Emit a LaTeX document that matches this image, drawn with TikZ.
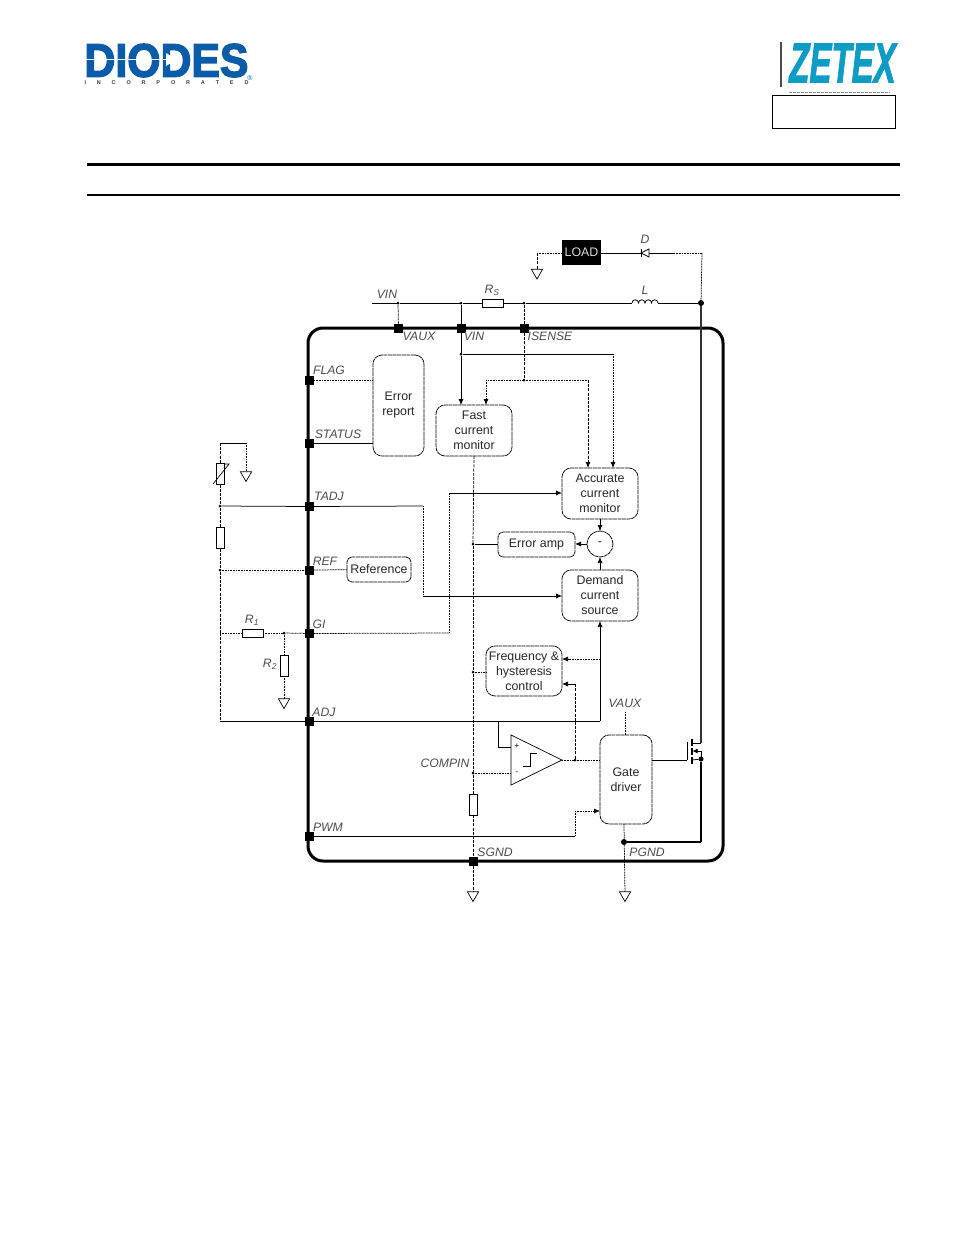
\documentclass[tikz,border=0pt]{standalone}
\usepackage{fontspec}
\setmainfont{Liberation Sans}
\newfontfamily\diodesfont{Liberation Sans}[UprightFont=* Bold,FakeBold=3]
\newfontfamily\zetexfont{Liberation Sans}[UprightFont=* Bold Italic,FakeBold=2.2]
\newfontfamily\incfont{Liberation Sans}[UprightFont=* Bold,WordSpace=7.1]
\usetikzlibrary{shapes.geometric,arrows.meta}
\definecolor{diodesblue}{HTML}{0B5CA8}
\definecolor{zetexblue}{HTML}{0C9CC6}
\tikzset{
  wire/.style={line width=0.75pt},
  dotwire/.style={line width=0.75pt,dash pattern=on 1pt off 0.6pt},
  dashwire/.style={line width=0.75pt,dash pattern=on 3pt off 1.2pt},
  arr/.style={-{Latex[length=6pt,width=5pt]}},
  block/.style={draw,line width=0.75pt,dash pattern=on 4pt off 0.6pt,rounded corners=9pt,inner sep=0pt,outer sep=0pt,align=center,font=\fontsize{12.4}{15}\selectfont,text=black!85},
  pin/.style={font=\fontsize{12.2}{14}\selectfont\itshape,text=black!70,inner sep=0pt},
  pad/.style={fill=black,minimum size=9pt,inner sep=0pt,outer sep=0pt},
  jdot/.style={circle,fill=black,minimum size=3pt,inner sep=0pt,outer sep=0pt},
  bigdot/.style={circle,fill=black,minimum size=6pt,inner sep=0pt,outer sep=0pt},
  resh/.style={draw,line width=0.7pt,minimum width=21pt,minimum height=8pt,inner sep=0pt,outer sep=0pt},
  resv/.style={draw,line width=0.7pt,minimum width=8pt,minimum height=21pt,inner sep=0pt,outer sep=0pt},
  gndsym/.style={draw,line width=0.7pt,regular polygon,regular polygon sides=3,shape border rotate=180,minimum size=13pt,inner sep=0pt,outer sep=0pt},
}
\begin{document}
\begin{tikzpicture}[x=1pt,y=-1pt]
\useasboundingbox (0,0) rectangle (954,1235);
%%% header %%%%
\node[inner sep=0pt,text=diodesblue,font=\fontsize{47}{47}\diodesfont,xscale=0.91] (diodes) at (166.5,60.5) {DIODES};
\node[inner sep=0pt,font=\fontsize{5.5}{6}\incfont,text=black!75] (incorp) at (166.5,83) {I N C O R P O R A T E D};
\node[inner sep=0pt,text=diodesblue,font=\fontsize{7}{7}\selectfont] (regmark) at (250,78) {®};
\node[inner sep=0pt,text=zetexblue,font=\fontsize{56}{56}\zetexfont,xscale=0.59] (zetex) at (842.5,63) {ZETEX};
\node[draw,line width=1.2pt,minimum width=123pt,minimum height=33pt,inner sep=0pt] (tagbox) at (834,112) {};
\coordinate (stra) at (85,59.5);
\coordinate (strb) at (168,59.5);
\coordinate (bara) at (781,42);
\coordinate (barb) at (781,87);
\coordinate (taga) at (789,92);
\coordinate (tagb) at (890,92);
\coordinate (rula) at (87,164.5);
\coordinate (rulb) at (900,164.5);
\coordinate (rulc) at (87,195);
\coordinate (ruld) at (900,195);
\draw[line width=1.5pt,white] (stra) to (strb);
\fill[white] (166,53) to (177,59.5) to (166,66) to cycle;
\draw[line width=1.2pt,black!70] (bara) to (barb);
\draw[line width=0.8pt,black!45,dash pattern=on 3pt off 1pt] (taga) to (tagb);
\draw[line width=3pt] (rula) to (rulb);
\draw[line width=2pt] (rulc) to (ruld);

%%% chip %%%%
\node[draw,line width=3pt,rounded corners=15pt,minimum width=415pt,minimum height=533pt,inner sep=0pt,outer sep=0pt] (chip) at (515.5,594.5) {};

%% pads
\node[pad] (pvaux) at (398.5,328.5) {};
\node[pad] (pvin) at (461,328.5) {};
\node[pad] (pisense) at (524,328.5) {};
\node[pad] (pflag) at (309.5,380) {};
\node[pad] (pstatus) at (309.5,443) {};
\node[pad] (ptadj) at (309.5,506.5) {};
\node[pad] (pref) at (309.5,570) {};
\node[pad] (pgi) at (309.5,633.5) {};
\node[pad] (padj) at (309.5,721) {};
\node[pad] (ppwm) at (309.5,836) {};
\node[pad] (psgnd) at (473,861) {};

%% blocks
\node[block,minimum width=51pt,minimum height=101pt] (err) at (398.5,405.5) {Error\\report};
\node[block,minimum width=76pt,minimum height=51pt] (fast) at (474,430.5) {Fast\\current\\monitor};
\node[block,minimum width=76pt,minimum height=51pt] (acc) at (600,493.5) {Accurate\\current\\monitor};
\node[block,minimum width=77pt,minimum height=25pt,rounded corners=5pt] (eamp) at (536.5,544.5) {Error amp};
\node[block,circle,minimum size=26pt] (sumc) at (600,544) {-};
\node[block,minimum width=76pt,minimum height=51pt] (dem) at (600,595.5) {Demand\\current\\source};
\node[block,minimum width=64pt,minimum height=25pt,rounded corners=5pt] (refb) at (379,569.5) {Reference};
\node[block,minimum width=76pt,minimum height=50pt] (freq) at (524,671) {Frequency \&\\hysteresis\\control};
\node[block,minimum width=52pt,minimum height=89pt] (gate) at (626,779.5) {Gate\\driver};
\node[fill=black,minimum width=39pt,minimum height=25pt,inner sep=0pt,outer sep=0pt,text=white!85!black,font=\fontsize{12.4}{15}\selectfont] (load) at (581.5,252.5) {LOAD};

%% resistors
\node[resh] (rs) at (492.5,303) {};
\node[resh] (rone) at (252.5,633) {};
\node[resv] (rtwo) at (284,665.5) {};
\node[resv] (rbias) at (220,538) {};
\node[resv] (rtherm) at (220,474) {};
\node[resv] (rcomp) at (473,804.5) {};

%% grounds
\node[gndsym] (gload) at (537,272.5) {};
\node[gndsym] (gtherm) at (246,475) {};
\node[gndsym] (gtwo) at (284,702) {};
\node[gndsym] (gsgnd) at (473,895) {};
\node[gndsym] (gpgnd) at (625,895) {};

%% dots
\node[jdot] (dvaux) at (398,303) {};
\node[jdot] (dvin) at (461,303) {};
\node[jdot] (dsense) at (524,303) {};
\node[bigdot] (dout) at (701,303) {};
\node[jdot] (dvinb) at (461,354) {};
\node[jdot] (dsenseb) at (524,380) {};
\node[jdot] (dtadj) at (220,506) {};
\node[jdot] (dref) at (220,570) {};
\node[jdot] (dgi) at (284,633) {};
\node[jdot] (deamp) at (473,544) {};
\node[jdot] (dfreq) at (473,672) {};
\node[jdot] (dcomp) at (473,773) {};
\node[jdot] (dfb) at (575,760) {};
\node[bigdot,minimum size=5pt] (dsrc) at (701,759) {};
\node[bigdot] (dpgnd) at (624,842) {};

%% corners and free ends
\coordinate (vinl) at (372,303);
\coordinate (lleft) at (632,303);
\coordinate (lright) at (658,303);
\coordinate (loadc) at (537,253);
\coordinate (dioa) at (641,253);
\coordinate (dioe) at (674,253);
\coordinate (dioc) at (702,253);
\coordinate (vinc) at (613,354);
\coordinate (sensel) at (486,380);
\coordinate (senser) at (588,380);
\coordinate (tadja) at (423,506);
\coordinate (tadjb) at (423,596);
\coordinate (gia) at (449,633);
\coordinate (gib) at (449,493);
\coordinate (lefttop) at (220,443);
\coordinate (thermtop) at (246,443);
\coordinate (lgi) at (220,633);
\coordinate (ladj) at (220,721);
\coordinate (adjc) at (600,721);
\coordinate (adjd) at (600,659);
\coordinate (plusa) at (498,721);
\coordinate (plusb) at (498,747);
\coordinate (cmpa) at (511,735);
\coordinate (cmpb) at (511,785);
\coordinate (cmpc) at (562,760);
\coordinate (plusc) at (511,747);
\coordinate (minc) at (511,773);
\coordinate (fba) at (575,684);
\coordinate (pwma) at (575,836);
\coordinate (pwmb) at (575,811);
\coordinate (vauxt) at (625,712);
\coordinate (gdout) at (687,760);
\coordinate (gdtop) at (687,742);
\coordinate (dtop) at (701,743);
\coordinate (dcor) at (701,842);

%% labels
\node[pin] (lvinl) at (387,294) {VIN};
\node[pin] (lrs) at (492,290) {R\textsubscript{S}};
\node[pin] (ll) at (645,290) {L};
\node[pin] (ld) at (645,239) {D};
\node[pin] (lvaux) at (419,336) {VAUX};
\node[pin] (lvin) at (474,336) {VIN};
\node[pin] (lisense) at (550,336) {ISENSE};
\node[pin] (lflag) at (329,370) {FLAG};
\node[pin] (lstatus) at (338,434) {STATUS};
\node[pin] (ltadj) at (329,496) {TADJ};
\node[pin] (lref) at (325,561) {REF};
\node[pin] (lgil) at (319,624) {GI};
\node[pin] (ladjl) at (324,712) {ADJ};
\node[pin] (lpwm) at (328,827) {PWM};
\node[pin] (lcompin) at (445,763) {COMPIN};
\node[pin] (lsgnd) at (495,852) {SGND};
\node[pin] (lpgnd) at (647,852) {PGND};
\node[pin] (lvauxb) at (625,703) {VAUX};
\node[pin] (lrone) at (252,620) {R\textsubscript{1}};
\node[pin] (lrtwo) at (270,664) {R\textsubscript{2}};
\node[inner sep=0pt,font=\fontsize{8}{8}\selectfont] (lplus) at (517,746) {+};
\node[inner sep=0pt,font=\fontsize{8}{8}\selectfont] (lminus) at (517,773) {-};

%%% edges %%%%
%% supply line
\draw[wire] (vinl) to (dvaux);
\draw[wire] (dvaux) to (dvin);
\draw[wire] (dvin) to (rs);
\draw[wire] (rs) to (dsense);
\draw[wire] (dsense) to (lleft);
\draw[wire] (lright) to (dout);
\draw[wire] (lleft) \foreach \i in {1,...,4} {arc[start angle=180,end angle=360,radius=3.25]};
\draw[dotwire] (dvaux) to (pvaux);
\draw[wire] (dvin) to (pvin);
\draw[wire] (pvin) to (dvinb);
\draw[wire,arr] (dvinb) to (fast.north -| dvinb);
\draw[wire] (dvinb) to (vinc);
\draw[dotwire,arr] (vinc) to (acc.north -| vinc);
\draw[dashwire] (dsense) to (pisense);
\draw[dashwire] (pisense) to (dsenseb);
\draw[dotwire] (dsenseb) to (sensel);
\draw[dotwire,arr] (sensel) to (fast.north -| sensel);
\draw[dotwire] (dsenseb) to (senser);
\draw[dashwire,arr] (senser) to (acc.north -| senser);

%% load and diode
\draw[wire] (load.east |- dioa) to (dioe);
\draw[dotwire] (dioe) to (dioc);
\draw[dotwire] (dioc) to (dout);
\draw[dotwire] (load.west |- loadc) to (loadc);
\draw[dashwire] (loadc) to (gload);
\draw[line width=0.7pt,fill=white] (649,249) to (649,257) to (641,253) to cycle;
\draw[line width=0.9pt] (641,249) to (641,257);

%% left side
\draw[dashwire] (lefttop) to (rtherm);
\draw[wire] (lefttop) to (thermtop);
\draw[dotwire] (thermtop) to (gtherm);
\draw[dashwire] (rtherm) to (dtadj);
\draw[dashwire] (dtadj) to (rbias);
\draw[dashwire] (rbias) to (dref);
\draw[dashwire] (dref) to (lgi);
\draw[dashwire] (lgi) to (ladj);
\draw[line width=0.7pt] (213,484) to (229,464) to (225,464);
\draw[wire] (dtadj) to (ptadj);
\draw[wire] (ptadj) to (tadja);
\draw[dotwire] (tadja) to (tadjb);
\draw[wire,arr] (tadjb) to (dem.west |- tadjb);
\draw[dotwire] (dref) to (pref);
\draw[dotwire] (pref) to (refb);
\draw[dotwire] (lgi) to (rone);
\draw[dotwire] (rone) to (dgi);
\draw[dotwire] (dgi) to (pgi);
\draw[dotwire] (pgi) to (gia);
\draw[dotwire] (gia) to (gib);
\draw[wire,arr] (gib) to (acc.west |- gib);
\draw[dotwire] (dgi) to (rtwo);
\draw[dotwire] (rtwo) to (gtwo);
\draw[dotwire] (pflag) to (err.west |- pflag);
\draw[wire] (pstatus) to (err.west |- pstatus);
\draw[wire] (ladj) to (padj);
\draw[wire] (padj) to (adjc);
\draw[wire,arr] (adjc) to (dem.south -| adjc);
\draw[dotwire,arr] (adjd) to (freq.east |- adjd);

%% centre rail
\draw[dashwire] (fast.south) to (deamp);
\draw[dashwire] (deamp) to (dfreq);
\draw[dashwire] (dfreq) to (dcomp);
\draw[dashwire] (dcomp) to (rcomp);
\draw[dashwire] (rcomp) to (psgnd);
\draw[dashwire] (psgnd) to (gsgnd);
\draw[wire] (deamp) to (eamp.west |- deamp);
\draw[dotwire] (dfreq) to (freq.west |- dfreq);

%% amp and sum
\draw[wire,arr] (sumc) to (eamp.east |- sumc);
\draw[wire,arr] (acc.south) to (sumc);
\draw[wire,arr] (dem.north) to (sumc);

%% comparator
\draw[line width=0.7pt] (cmpa) to (cmpb) to (cmpc) to cycle;
\draw[line width=0.7pt] (523,766) to (530,766) to (530,753) to (537,753);
\draw[wire] (plusa) to (plusb);
\draw[wire] (plusb) to (plusc);
\draw[dotwire] (dcomp) to (minc);
\draw[dotwire] (cmpc) to (dfb);
\draw[dotwire] (dfb) to (gate.west |- dfb);
\draw[dashwire] (dfb) to (fba);
\draw[wire,arr] (fba) to (freq.east |- fba);
\draw[wire] (ppwm) to (pwma);
\draw[dotwire] (pwma) to (pwmb);
\draw[dotwire,arr] (pwmb) to (gate.west |- pwmb);
\draw[dotwire] (vauxt) to (gate.north -| vauxt);
\draw[dotwire] (gate.south -| dpgnd) to (gpgnd);

%% output switch
\draw[line width=1.1pt,black!80] (dout) to (dtop);
\draw[wire] (dtop) to (692,743);
\draw[line width=1pt] (gate.east |- gdout) to (gdout);
\draw[wire] (gdout) to (gdtop);
\draw[line width=1.4pt] (692,739) to (692,746);
\draw[line width=1.4pt] (692,748) to (692,755);
\draw[line width=1.4pt] (692,757) to (692,764);
\draw[wire] (692,760) to (dsrc);
\draw[wire] (701,751) to (dsrc);
\draw[wire,{Latex[length=5pt,width=5pt]}-] (692.5,751) to (701,751);
\draw[line width=1.3pt] (dsrc) to (dcor);
\draw[line width=1.3pt] (dcor) to (dpgnd);
\end{tikzpicture}
\end{document}
